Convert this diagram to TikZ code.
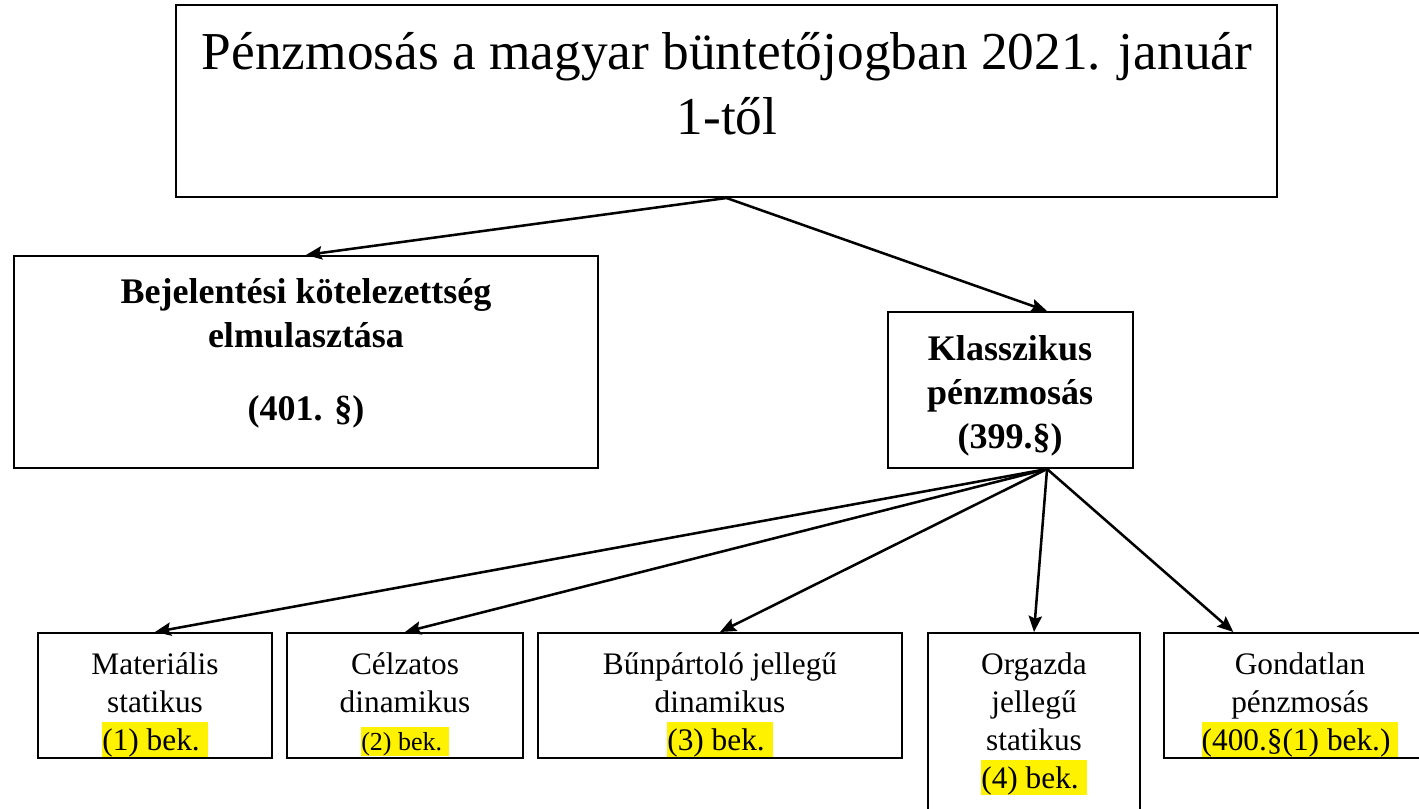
\documentclass[tikz,border=0pt]{standalone}
\usepackage{fontspec}
\setmainfont{Liberation Serif}
\usetikzlibrary{arrows.meta,fit}

\newcommand{\hilite}[1]{{\setlength{\fboxsep}{0pt}\colorbox{yellow}{\rule[-.22em]{0pt}{1.12em}#1\hspace{.25em}}\hspace{-.25em}}}

\tikzset{
  box/.style={draw, line width=1.5pt, inner sep=0pt},
  txt/.style={align=center, inner sep=0pt},
  bigtxt/.style={txt, font=\fontsize{40}{49}\selectfont},
  boldtxt/.style={txt, font=\fontsize{27}{33}\selectfont\bfseries},
  smalltxt/.style={txt, font=\fontsize{23.5}{28.5}\selectfont},
  conn/.style={-{Stealth[length=12pt,width=10pt,inset=2pt]}, line width=1.9pt},
}

\begin{document}
\begin{tikzpicture}[x=0.75pt, y=-0.75pt]
\useasboundingbox (0,0) rectangle (1419,809);

% title
\node[box, fit={(176,5) (1277,197)}] (title) {};
\node[bigtxt] (title-t) at (727,84) {Pénzmosás a magyar büntetőjogban 2021. január\\1-től};

% second level
\node[box, fit={(14,256) (598,468)}] (bej) {};
\node[boldtxt] (bej-t) at (306,353) {Bejelentési kötelezettség\\elmulasztása\\[22pt](401. §)};

\node[box, fit={(888,312) (1133,468)}] (klass) {};
\node[boldtxt] (klass-t) at (1010,396) {Klasszikus\\pénzmosás\\(399.§)};

% third level
\node[box, fit={(38,633) (272,758)}] (mat) {};
\node[smalltxt] (mat-t) at (155,705) {Materiális\\statikus\\\hilite{(1) bek.}};

\node[box, fit={(287,633) (523,758)}] (cel) {};
\node[smalltxt] (cel-t) at (405,704) {Célzatos\\dinamikus\\{\fontsize{19.5}{23}\selectfont\hilite{(2) bek.}}};

\node[box, fit={(538,633) (902,758)}] (bun) {};
\node[smalltxt] (bun-t) at (720,705) {Bűnpártoló jellegű\\dinamikus\\\hilite{(3) bek.}};

\node[box, fit={(928,633) (1140,815)}] (org) {};
\node[smalltxt] (org-t) at (1034,724) {Orgazda\\jellegű\\statikus\\\hilite{(4) bek.}};

\node[box, fit={(1164,633) (1436,758)}] (gon) {};
\node[smalltxt] (gon-t) at (1300,705) {Gondatlan\\pénzmosás\\\hilite{(400.§(1) bek.)}};

% arrows
\draw[conn] (title.south) -- (bej.north);
\draw[conn] (title.south) -- ([xshift=27.4pt]klass.north);
\foreach \n in {mat,cel,bun,org}
  \draw[conn] ([xshift=27.4pt]klass.south) -- (\n.north);
\draw[conn] ([xshift=27.4pt]klass.south) -- ([xshift=-50pt]gon.north);
\end{tikzpicture}
\end{document}
